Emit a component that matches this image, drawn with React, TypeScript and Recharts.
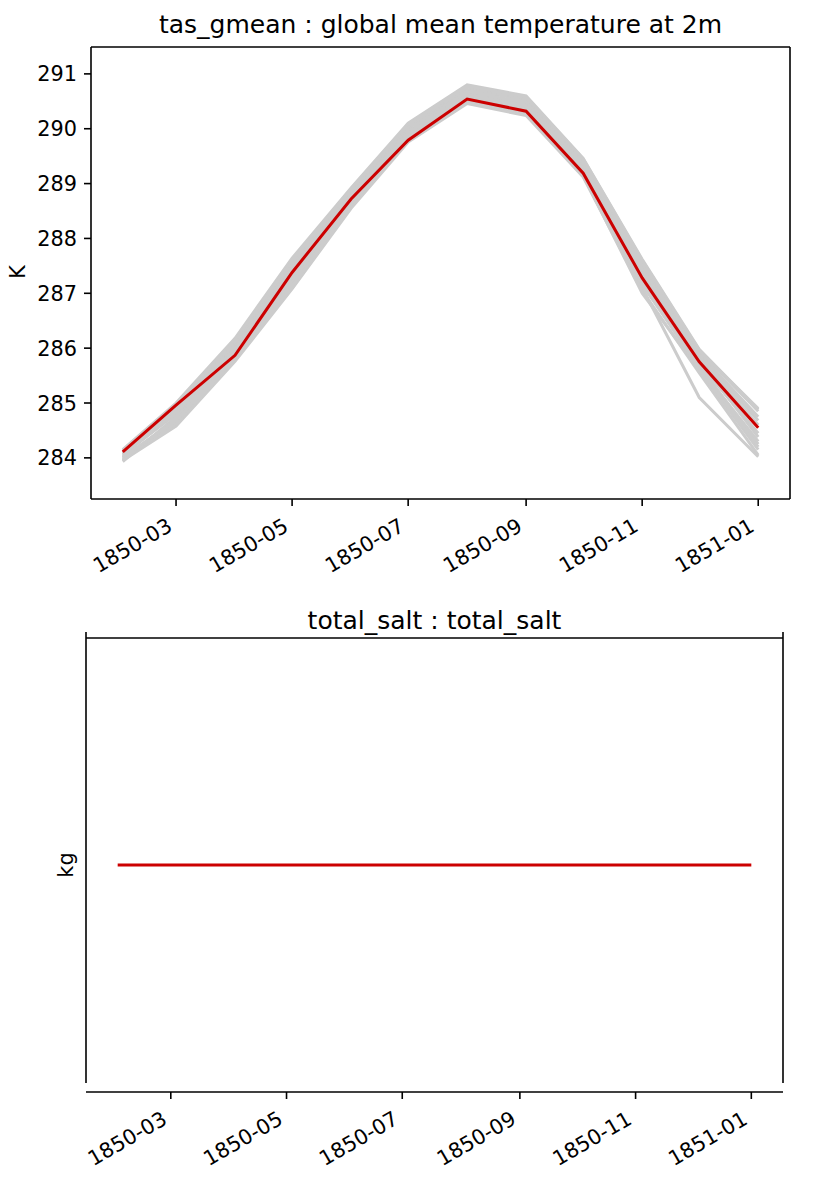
import { Line, LineChart, ReferenceLine, XAxis, YAxis } from "recharts";

// x positions are days since 1850-01-01 (first of each month, Feb 1850 .. Jan 1851)
const MONTH_DAYS = [31, 59, 90, 120, 151, 181, 212, 243, 273, 304, 334, 365];
const TICK_DAYS = [59, 120, 181, 243, 304, 365];
const TICK_LABELS = ["1850-03", "1850-05", "1850-07", "1850-09", "1850-11", "1851-01"];

// tas_gmean, reference run (red) in K
const TAS_REF = [284.11, 284.96, 285.87, 287.38, 288.72, 289.79, 290.54, 290.32, 289.19, 287.28, 285.75, 284.55];

// ensemble members (grey)
const TAS_M01 = [284.15, 285.0, 286.18, 287.64, 288.92, 290.1, 290.8, 290.6, 289.46, 287.62, 285.98, 284.88];
const TAS_M02 = [283.95, 284.58, 285.76, 287.08, 288.55, 289.76, 290.46, 290.24, 289.12, 287.05, 285.55, 284.05];
const TAS_M03 = [284.05, 284.8, 285.95, 287.4, 288.75, 289.9, 290.65, 290.45, 289.3, 287.35, 285.8, 284.6];
const TAS_M04 = [283.98, 284.7, 285.85, 287.25, 288.65, 289.82, 290.55, 290.35, 289.22, 287.2, 285.65, 284.3];
const TAS_M05 = [284.1, 284.9, 286.05, 287.5, 288.85, 290.0, 290.72, 290.52, 289.4, 287.5, 285.9, 284.75];
const TAS_M06 = [284.0, 284.65, 285.8, 287.15, 288.6, 289.78, 290.5, 290.28, 289.18, 287.1, 285.1, 284.02];
const TAS_M07 = [284.12, 284.95, 286.1, 287.55, 288.88, 290.05, 290.76, 290.56, 289.42, 287.55, 285.95, 284.85];
const TAS_M08 = [283.93, 284.75, 285.9, 287.3, 288.7, 289.86, 290.6, 290.4, 289.26, 287.28, 285.72, 284.45];
const TAS_M09 = [284.08, 284.85, 286.0, 287.45, 288.8, 289.95, 290.68, 290.48, 289.35, 287.42, 285.85, 284.68];
const TAS_M10 = [284.02, 284.62, 285.78, 287.1, 288.58, 289.8, 290.48, 290.3, 289.15, 287.0, 285.6, 284.15];
const TAS_M11 = [284.14, 284.98, 286.15, 287.6, 288.9, 290.08, 290.78, 290.58, 289.45, 287.6, 285.96, 284.9];
const TAS_M12 = [283.96, 284.72, 285.88, 287.2, 288.62, 289.84, 290.58, 290.36, 289.24, 287.15, 285.68, 284.25];
const TAS_M13 = [284.06, 284.82, 285.97, 287.35, 288.78, 289.92, 290.62, 290.42, 289.28, 287.32, 285.78, 284.38];
const TAS_M14 = [284.01, 284.68, 285.82, 287.12, 288.64, 289.8, 290.52, 290.32, 289.2, 287.18, 285.62, 284.2];

const MEMBERS = [
  TAS_M01, TAS_M02, TAS_M03, TAS_M04, TAS_M05, TAS_M06, TAS_M07,
  TAS_M08, TAS_M09, TAS_M10, TAS_M11, TAS_M12, TAS_M13, TAS_M14,
];

const TAS_TICKS = [284, 285, 286, 287, 288, 289, 290, 291];

// total_salt is constant; the axis shows no tick values
const SALT = [1, 1, 1, 1, 1, 1, 1, 1, 1, 1, 1, 1];

const X_DOMAIN: [number, number] = [14.3, 381.7];
const TAS_DOMAIN: [number, number] = [283.25, 291.49];
const SALT_DOMAIN: [number, number] = [0.9, 1.1];

const FONT = "'DejaVu Sans', sans-serif";
const TICK_FS = 20.8;
const GREY = "#cccccc";
const RED = "#cc0000";
const SPINE = { stroke: "#000", strokeWidth: 1.6 };

const tasData = MONTH_DAYS.map((day, i) => {
  const row: Record<string, number> = { day, ref: TAS_REF[i] };
  MEMBERS.forEach((m, k) => {
    row[`m${k}`] = m[i];
  });
  return row;
});

const saltData = MONTH_DAYS.map((day, i) => ({ day, salt: SALT[i] }));

function DateTick(props: any) {
  const { x, y, payload } = props;
  const idx = TICK_DAYS.indexOf(payload.value);
  const tx = x - 2.4;
  const ty = y + 24;
  return (
    <text
      x={tx}
      y={ty}
      textAnchor="end"
      transform={`rotate(-30, ${tx}, ${ty})`}
      fontSize={TICK_FS}
      fontFamily={FONT}
      fill="#000"
    >
      {TICK_LABELS[idx]}
    </text>
  );
}

function ValueTick(props: any) {
  const { x, y, payload } = props;
  return (
    <text x={x} y={y + 7.5} textAnchor="end" fontSize={TICK_FS} fontFamily={FONT} fill="#000">
      {payload.value}
    </text>
  );
}

function dateAxis() {
  return (
    <XAxis
      dataKey="day"
      type="number"
      domain={X_DOMAIN}
      allowDataOverflow
      ticks={TICK_DAYS}
      tick={<DateTick />}
      tickSize={7}
      tickMargin={0}
      height={60}
      axisLine={SPINE}
      tickLine={SPINE}
      interval={0}
    />
  );
}

export default function App() {
  return (
    <div style={{ position: "absolute", left: 0, top: 0, width: 819, height: 1200, background: "#fff", fontFamily: FONT }}>
      <div style={{ position: "absolute", left: 0, top: 0 }}>
        <LineChart width={819} height={600} data={tasData} margin={{ top: 47, right: 29, bottom: 41, left: 11 }}>
          {dateAxis()}
          <YAxis
            type="number"
            domain={TAS_DOMAIN}
            allowDataOverflow
            ticks={TAS_TICKS}
            width={80}
            tickSize={7}
            tickMargin={7}
            axisLine={SPINE}
            tickLine={SPINE}
            tick={<ValueTick />}
            interval={0}
          />
          <ReferenceLine y={TAS_DOMAIN[1]} stroke="#000" strokeWidth={1.6} />
          <ReferenceLine x={X_DOMAIN[1]} stroke="#000" strokeWidth={1.6} />
          {MEMBERS.map((_, k) => (
            <Line
              key={k}
              type="linear"
              dataKey={`m${k}`}
              stroke={GREY}
              strokeWidth={3}
              dot={false}
              isAnimationActive={false}
            />
          ))}
          <Line type="linear" dataKey="ref" stroke={RED} strokeWidth={3} dot={false} isAnimationActive={false} />
        </LineChart>
      </div>

      <div style={{ position: "absolute", left: 0, top: 600 }}>
        <LineChart width={819} height={600} data={saltData} margin={{ top: 38, right: 36, bottom: 48, left: 6 }}>
          {dateAxis()}
          <YAxis type="number" domain={SALT_DOMAIN} allowDataOverflow width={80} axisLine={false} tickLine={false} tick={false} />
          <ReferenceLine y={SALT_DOMAIN[1]} stroke="#000" strokeWidth={1.6} />
          <ReferenceLine
            segment={[{ x: X_DOMAIN[0], y: 1.10264 }, { x: X_DOMAIN[0], y: 0.90396 }]}
            ifOverflow="visible"
            stroke="#000"
            strokeWidth={1.6}
          />
          <ReferenceLine
            segment={[{ x: X_DOMAIN[1], y: 1.10264 }, { x: X_DOMAIN[1], y: 0.90396 }]}
            ifOverflow="visible"
            stroke="#000"
            strokeWidth={1.6}
          />
          <Line type="linear" dataKey="salt" stroke={RED} strokeWidth={3} dot={false} isAnimationActive={false} />
        </LineChart>
      </div>

      <svg width={819} height={1200} style={{ position: "absolute", left: 0, top: 0, pointerEvents: "none" }}>
        <text x={440.5} y={33} textAnchor="middle" fontSize={25} fontFamily={FONT} fill="#000">
          tas_gmean : global mean temperature at 2m
        </text>
        <text x={434.5} y={629} textAnchor="middle" fontSize={25} fontFamily={FONT} fill="#000">
          total_salt : total_salt
        </text>
        <text x={25.3} y={272} textAnchor="middle" fontSize={TICK_FS} fontFamily={FONT} fill="#000" transform="rotate(-90, 25.3, 272)">
          K
        </text>
        <text x={72.5} y={865} textAnchor="middle" fontSize={TICK_FS} fontFamily={FONT} fill="#000" transform="rotate(-90, 72.5, 865)">
          kg
        </text>
      </svg>
    </div>
  );
}
